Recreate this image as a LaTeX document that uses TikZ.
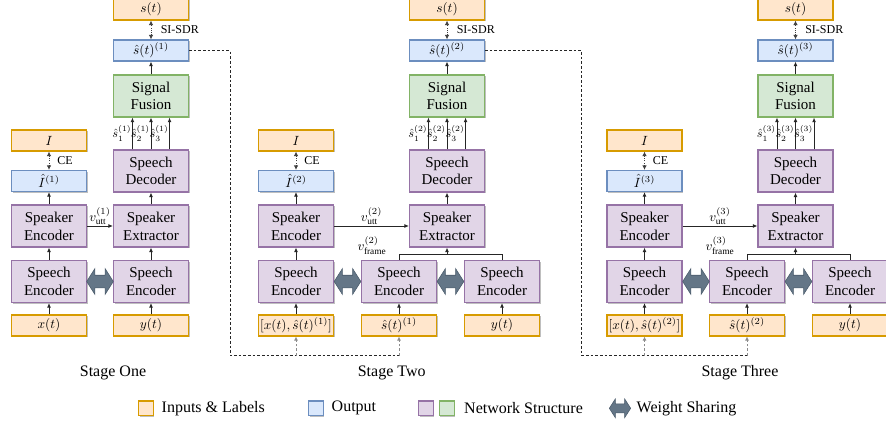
\documentclass[tikz,border=0pt]{standalone}
\usepackage{fontspec}
\setmainfont{Liberation Serif}
\usetikzlibrary{arrows.meta,shapes.arrows,shadows}
\definecolor{inFill}{HTML}{FFE6CC}
\definecolor{inDraw}{HTML}{D79B00}
\definecolor{outFill}{HTML}{DAE8FC}
\definecolor{outDraw}{HTML}{6C8EBF}
\definecolor{netFill}{HTML}{E1D5E7}
\definecolor{netDraw}{HTML}{9673A6}
\definecolor{fusFill}{HTML}{D5E8D4}
\definecolor{fusDraw}{HTML}{82B366}
\definecolor{wsFill}{HTML}{647687}
\definecolor{wsDraw}{HTML}{4A5A6A}
\begin{document}
\begin{tikzpicture}[
        x=0.75pt, y=-0.75pt,
        box/.style={rectangle, draw, line width=0.8pt, minimum width=56.25pt, inner sep=0pt, align=center,
            drop shadow={shadow xshift=0.8pt, shadow yshift=-0.9pt, opacity=0.25, fill=black},
            font=\fontsize{11.25}{13.3}\selectfont},
        net/.style={box, minimum height=31.5pt, fill=netFill, draw=netDraw},
        fuse/.style={net, fill=fusFill, draw=fusDraw},
        io/.style={box, minimum height=15.75pt, font=\fontsize{10}{12}\selectfont},
        inp/.style={io, fill=inFill, draw=inDraw},
        outp/.style={io, fill=outFill, draw=outDraw},
        arr/.style={-{Latex[length=3.5pt,width=3pt]}, line width=0.7pt, draw=black!85},
        plain/.style={line width=0.7pt, draw=black!85},
        loss/.style={{Latex[length=3.5pt,width=3.5pt]}-{Latex[length=3.5pt,width=3.5pt]}, densely dotted, line width=0.7pt, draw=black!75},
        link/.style={dash pattern=on 2pt off 1.5pt, line width=0.6pt, draw=black!85},
        uplink/.style={dash pattern=on 2pt off 1.5pt, line width=0.6pt, draw=black!45, -{Latex[length=3pt,width=3pt]}},
        wshare/.style={double arrow, fill=wsFill, draw=wsDraw, line width=0.4pt, inner xsep=0pt, inner ysep=4.5pt,
            double arrow head extend=5pt, double arrow head indent=0pt, double arrow tip angle=115, minimum height=20pt},
        lbl/.style={font=\fontsize{9}{10}\selectfont, inner sep=0pt},
        sml/.style={font=\fontsize{10}{12}\selectfont, inner sep=0.6pt},
        part/.style={font=\fontsize{9.2}{11}\selectfont, inner sep=0.4pt},
        stage/.style={font=\fontsize{12}{14}\selectfont},
        key/.style={minimum width=11pt, minimum height=11pt}
    ]
        \useasboundingbox (0,0) rectangle (886,425);

        % stage one
        \node[inp] (s1) at (151,9.5) {$s(t)$};
        \node[outp] (sh1) at (151,50.5) {$\hat{s}(t)^{(1)}$};
        \node[fuse] (fus1) at (151,96) {Signal\\Fusion};
        \node[net] (dec1) at (151,171) {Speech\\Decoder};
        \node[net] (ext1) at (151,226) {Speaker\\Extractor};
        \node[net] (enc1r) at (151,281.5) {Speech\\Encoder};
        \node[inp] (in1r) at (151,325.5) {$y(t)$};
        \node[inp] (I1) at (49,140.5) {$I$};
        \node[outp] (Ih1) at (49,181) {$\hat{I}^{(1)}$};
        \node[net] (spk1) at (49,226) {Speaker\\Encoder};
        \node[net] (enc1l) at (49,281.5) {Speech\\Encoder};
        \node[inp] (in1l) at (49,325.5) {$x(t)$};
        \node[wshare] (ws1) at (100,281.5) {};

        \draw[arr] (in1l) -- (enc1l);
        \draw[arr] (enc1l) -- (spk1);
        \draw[arr] (spk1) -- (Ih1);
        \draw[loss] (Ih1) -- (I1) node[lbl, midway, right=6pt] {CE};
        \draw[arr] (in1r) -- (enc1r);
        \draw[arr] (enc1r) -- (ext1);
        \draw[arr] (spk1) -- (ext1) node[sml, midway, above] {$v^{(1)}_{\mathrm{utt}}$};
        \draw[arr] (ext1) -- (dec1);
        \draw[arr] ([xshift=-13.9pt]dec1.north) -- ([xshift=-13.9pt]fus1.south) node[part, midway, left] {$\hat{s}^{(1)}_1$};
        \draw[arr] (dec1) -- (fus1) node[part, midway, left] {$\hat{s}^{(1)}_2$};
        \draw[arr] ([xshift=13.9pt]dec1.north) -- ([xshift=13.9pt]fus1.south) node[part, midway, left] {$\hat{s}^{(1)}_3$};
        \draw[arr] (fus1) -- (sh1);
        \draw[loss] (sh1) -- (s1) node[lbl, midway, right=7pt] {SI-SDR};
        \node[stage] (st1) at (113,372.7) {Stage One};

        % stage two
        \node[inp] (s2) at (447,9.5) {$s(t)$};
        \node[outp] (sh2) at (447,50.5) {$\hat{s}(t)^{(2)}$};
        \node[fuse] (fus2) at (447,96) {Signal\\Fusion};
        \node[net] (dec2) at (447,171) {Speech\\Decoder};
        \node[net] (ext2) at (447,226) {Speaker\\Extractor};
        \node[inp] (I2) at (296,140.5) {$I$};
        \node[outp] (Ih2) at (296,181) {$\hat{I}^{(2)}$};
        \node[net] (spk2) at (296,226) {Speaker\\Encoder};
        \node[net] (enc2l) at (296,281.5) {Speech\\Encoder};
        \node[inp, font=\fontsize{9.6}{11}\selectfont] (in2l) at (296,325.5) {$[x(t),\hat{s}(t)^{(1)}]$};
        \node[net] (enc2m) at (399,281.5) {Speech\\Encoder};
        \node[inp] (in2m) at (399,325.5) {$\hat{s}(t)^{(1)}$};
        \node[net] (enc2r) at (502,281.5) {Speech\\Encoder};
        \node[inp] (in2r) at (502,325.5) {$y(t)$};
        \node[wshare] (ws2a) at (347.5,281.5) {};
        \node[wshare] (ws2b) at (450.5,281.5) {};
        \coordinate (f2) at (447,254.3);

        \draw[arr] (in2l) -- (enc2l);
        \draw[arr] (enc2l) -- (spk2);
        \draw[arr] (spk2) -- (Ih2);
        \draw[loss] (Ih2) -- (I2) node[lbl, midway, right=6pt] {CE};
        \draw[arr] (in2m) -- (enc2m);
        \draw[arr] (in2r) -- (enc2r);
        \draw[plain] (enc2m.north) |- (f2) -| (enc2r.north);
        \draw[arr] (f2) -- (ext2);
        \node[sml] (vf2) at (372,246) {$v^{(2)}_{\mathrm{frame}}$};
        \draw[arr] (spk2) -- (ext2) node[sml, midway, above] {$v^{(2)}_{\mathrm{utt}}$};
        \draw[arr] (ext2) -- (dec2);
        \draw[arr] ([xshift=-13.9pt]dec2.north) -- ([xshift=-13.9pt]fus2.south) node[part, midway, left] {$\hat{s}^{(2)}_1$};
        \draw[arr] (dec2) -- (fus2) node[part, midway, left] {$\hat{s}^{(2)}_2$};
        \draw[arr] ([xshift=13.9pt]dec2.north) -- ([xshift=13.9pt]fus2.south) node[part, midway, left] {$\hat{s}^{(2)}_3$};
        \draw[arr] (fus2) -- (sh2);
        \draw[loss] (sh2) -- (s2) node[lbl, midway, right=7pt] {SI-SDR};
        \node[stage] (st2) at (391.7,372.7) {Stage Two};

        % stage three
        \node[inp] (s3) at (795.5,9.5) {$s(t)$};
        \node[outp] (sh3) at (795.5,50.5) {$\hat{s}(t)^{(3)}$};
        \node[fuse] (fus3) at (795.5,96) {Signal\\Fusion};
        \node[net] (dec3) at (795.5,171) {Speech\\Decoder};
        \node[net] (ext3) at (795.5,226) {Speaker\\Extractor};
        \node[inp] (I3) at (644.5,140.5) {$I$};
        \node[outp] (Ih3) at (644.5,181) {$\hat{I}^{(3)}$};
        \node[net] (spk3) at (644.5,226) {Speaker\\Encoder};
        \node[net] (enc3l) at (644.5,281.5) {Speech\\Encoder};
        \node[inp, font=\fontsize{9.6}{11}\selectfont] (in3l) at (644.5,325.5) {$[x(t),\hat{s}(t)^{(2)}]$};
        \node[net] (enc3m) at (747,281.5) {Speech\\Encoder};
        \node[inp] (in3m) at (747,325.5) {$\hat{s}(t)^{(2)}$};
        \node[net] (enc3r) at (850,281.5) {Speech\\Encoder};
        \node[inp] (in3r) at (850,325.5) {$y(t)$};
        \node[wshare] (ws3a) at (696,281.5) {};
        \node[wshare] (ws3b) at (798.5,281.5) {};
        \coordinate (f3) at (795.5,254.3);

        \draw[arr] (in3l) -- (enc3l);
        \draw[arr] (enc3l) -- (spk3);
        \draw[arr] (spk3) -- (Ih3);
        \draw[loss] (Ih3) -- (I3) node[lbl, midway, right=6pt] {CE};
        \draw[arr] (in3m) -- (enc3m);
        \draw[arr] (in3r) -- (enc3r);
        \draw[plain] (enc3m.north) |- (f3) -| (enc3r.north);
        \draw[arr] (f3) -- (ext3);
        \node[sml] (vf3) at (720,246) {$v^{(3)}_{\mathrm{frame}}$};
        \draw[arr] (spk3) -- (ext3) node[sml, midway, above] {$v^{(3)}_{\mathrm{utt}}$};
        \draw[arr] (ext3) -- (dec3);
        \draw[arr] ([xshift=-13.9pt]dec3.north) -- ([xshift=-13.9pt]fus3.south) node[part, midway, left] {$\hat{s}^{(3)}_1$};
        \draw[arr] (dec3) -- (fus3) node[part, midway, left] {$\hat{s}^{(3)}_2$};
        \draw[arr] ([xshift=13.9pt]dec3.north) -- ([xshift=13.9pt]fus3.south) node[part, midway, left] {$\hat{s}^{(3)}_3$};
        \draw[arr] (fus3) -- (sh3);
        \draw[loss] (sh3) -- (s3) node[lbl, midway, right=7pt] {SI-SDR};
        \node[stage] (st3) at (740,372.7) {Stage Three};

        % feedback between stages
        \coordinate (c1) at (230,355.7);
        \draw[link] (sh1.east) -| (c1) -- (in2m |- c1);
        \draw[uplink] (in2l |- c1) -- (in2l);
        \draw[uplink] (in2m |- c1) -- (in2m);
        \coordinate (c2) at (581.7,355.7);
        \draw[link] (sh2.east) -| (c2) -- (in3m |- c2);
        \draw[uplink] (in3l |- c2) -- (in3l);
        \draw[uplink] (in3m |- c2) -- (in3m);

        % legend
        \node[inp, key] (kin) at (145.8,408.3) {};
        \node[stage, anchor=west] (tin) at (157,408.3) {Inputs \& Labels};
        \node[outp, key] (kout) at (316,408.3) {};
        \node[stage, anchor=west] (tout) at (327,408.3) {Output};
        \node[net, key] (knet) at (426,408.3) {};
        \node[fuse, key] (kfus) at (446.7,408.3) {};
        \node[stage, anchor=west] (tnet) at (459.5,408.3) {Network Structure};
        \node[wshare, minimum height=16pt, inner ysep=3.2pt, double arrow head extend=3.6pt] (kws) at (620,408.3) {};
        \node[stage, anchor=west] (tws) at (632,408.3) {Weight Sharing};
    \end{tikzpicture}
\end{document}
